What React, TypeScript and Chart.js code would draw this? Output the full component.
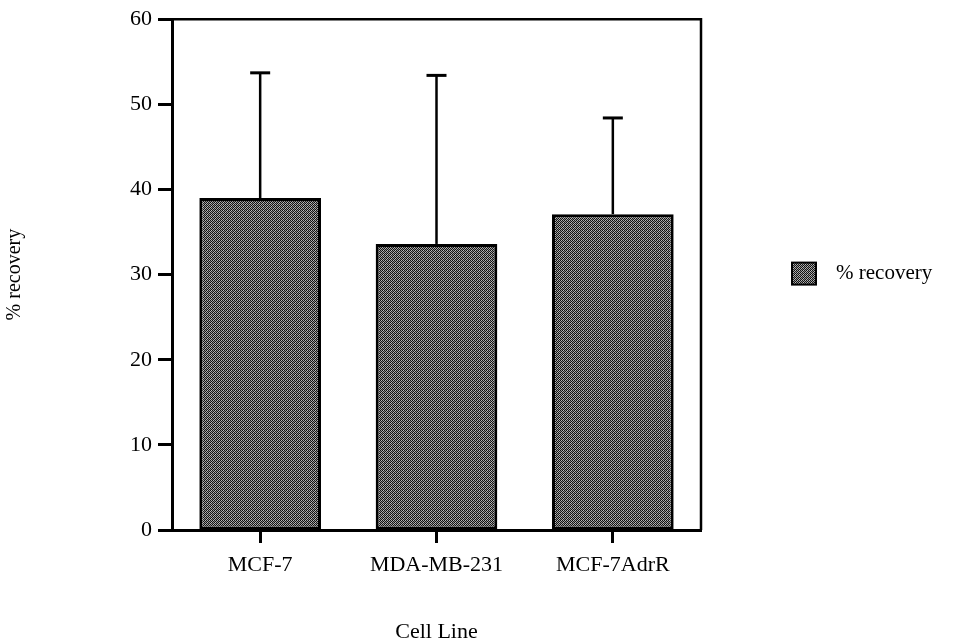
import { useEffect, useRef } from "react";
import { Chart, registerables } from "chart.js";

Chart.register(...registerables);

// Cell lines on the category axis
const cellLines = ["MCF-7", "MDA-MB-231", "MCF-7AdrR"];
// Mean % recovery per cell line
const recovery = [39.0, 33.6, 37.1];
// Upper error (SD) added on top of each mean
const recoverySd = [14.7, 19.8, 11.3];
// Value axis range
const yMin = 0;
const yMax = 60;
const yStep = 10;

const seriesLabel = "% recovery";
const FONT = "'Liberation Serif', 'Times New Roman', serif";

function makeStipple(ctx: CanvasRenderingContext2D): CanvasPattern | string {
  const tile = document.createElement("canvas");
  tile.width = 4;
  tile.height = 4;
  const t = tile.getContext("2d");
  if (!t) return "#555";
  const shades = [
    ["#0c0c0c", "#b8b8b8", "#141414", "#a8a8a8"],
    ["#a0a0a0", "#1a1a1a", "#858585", "#101010"],
    ["#121212", "#9a9a9a", "#0a0a0a", "#c0c0c0"],
    ["#808080", "#161616", "#b0b0b0", "#222"],
  ];
  for (let r = 0; r < 4; r++) {
    for (let c = 0; c < 4; c++) {
      t.fillStyle = shades[r][c];
      t.fillRect(c, r, 1, 1);
    }
  }
  return ctx.createPattern(tile, "repeat") || "#555";
}

export default function App() {
  const canvasRef = useRef<HTMLCanvasElement | null>(null);

  useEffect(() => {
    const canvas = canvasRef.current;
    if (!canvas) return;
    const ctx = canvas.getContext("2d");
    if (!ctx) return;
    const stipple = makeStipple(ctx);

    // Upward-only error whiskers with a flat cap
    const errorBars = {
      id: "errorBars",
      afterDatasetsDraw(chart: any) {
        const meta = chart.getDatasetMeta(0);
        const yScale = chart.scales.y;
        const c = chart.ctx;
        c.save();
        c.strokeStyle = "#000";
        meta.data.forEach((bar: any, i: number) => {
          const top = yScale.getPixelForValue(recovery[i] + recoverySd[i]);
          c.lineWidth = 2.5;
          c.beginPath();
          c.moveTo(bar.x, bar.y);
          c.lineTo(bar.x, top);
          c.stroke();
          c.lineWidth = 3;
          c.beginPath();
          c.moveTo(bar.x - 10, top);
          c.lineTo(bar.x + 10, top);
          c.stroke();
        });
        c.restore();
      },
    };

    // Top and right edges of the plot frame, plus the side legend
    const frameAndLegend = {
      id: "frameAndLegend",
      afterDraw(chart: any) {
        const { left, right, top, bottom } = chart.chartArea;
        const c = chart.ctx;
        c.save();
        c.strokeStyle = "#000";
        c.lineWidth = 2.5;
        c.beginPath();
        c.moveTo(left, top);
        c.lineTo(right, top);
        c.lineTo(right, bottom);
        c.stroke();

        const boxX = right + 91;
        const boxY = (top + bottom) / 2 - 12;
        c.fillStyle = stipple;
        c.fillRect(boxX, boxY, 24, 22);
        c.lineWidth = 2;
        c.strokeRect(boxX, boxY, 24, 22);
        c.fillStyle = "#000";
        c.font = `21px ${FONT}`;
        c.textAlign = "left";
        c.textBaseline = "middle";
        c.fillText(seriesLabel, boxX + 44, boxY + 11);
        c.restore();
      },
    };

    const chart = new Chart(canvas, {
      type: "bar",
      data: {
        labels: cellLines,
        datasets: [
          {
            label: seriesLabel,
            data: recovery,
            backgroundColor: stipple as any,
            borderColor: "#000",
            borderWidth: 3,
            borderSkipped: false,
            categoryPercentage: 1,
            barPercentage: 0.69,
          },
        ],
      },
      options: {
        responsive: false,
        animation: false,
        layout: { padding: { left: 0, top: 15, right: 261, bottom: 0 } },
        plugins: {
          legend: { display: false },
          tooltip: { enabled: false },
        },
        scales: {
          x: {
            afterFit(scale: any) {
              scale.height = 113;
            },
            grid: {
              offset: false,
              drawOnChartArea: false,
              drawTicks: true,
              tickLength: 13,
              tickWidth: 3,
              tickColor: "#000",
            },
            border: { display: true, color: "#000", width: 3 },
            ticks: {
              color: "#000",
              padding: 9,
              maxRotation: 0,
              font: { family: FONT, size: 22 },
            },
            title: {
              display: true,
              text: "Cell Line",
              color: "#000",
              font: { family: FONT, size: 22, lineHeight: 1 },
              padding: { top: 0, bottom: 0 },
            },
          },
          y: {
            min: yMin,
            max: yMax,
            afterFit(scale: any) {
              scale.width = 172;
            },
            grid: {
              drawOnChartArea: false,
              drawTicks: true,
              tickLength: 14,
              tickWidth: 3,
              tickColor: "#000",
            },
            border: { display: true, color: "#000", width: 3 },
            ticks: {
              stepSize: yStep,
              color: "#000",
              padding: 6,
              font: { family: FONT, size: 22 },
            },
            title: {
              display: true,
              text: seriesLabel,
              color: "#000",
              font: { family: FONT, size: 20, lineHeight: 1.2 },
              padding: { top: 3, bottom: 0 },
            },
          },
        },
      },
      plugins: [errorBars, frameAndLegend],
    });

    return () => chart.destroy();
  }, []);

  return (
    <div style={{ position: "fixed", left: 0, top: 0, width: 962, height: 643, background: "#fff" }}>
      <canvas ref={canvasRef} width={962} height={643} style={{ display: "block" }} />
    </div>
  );
}
